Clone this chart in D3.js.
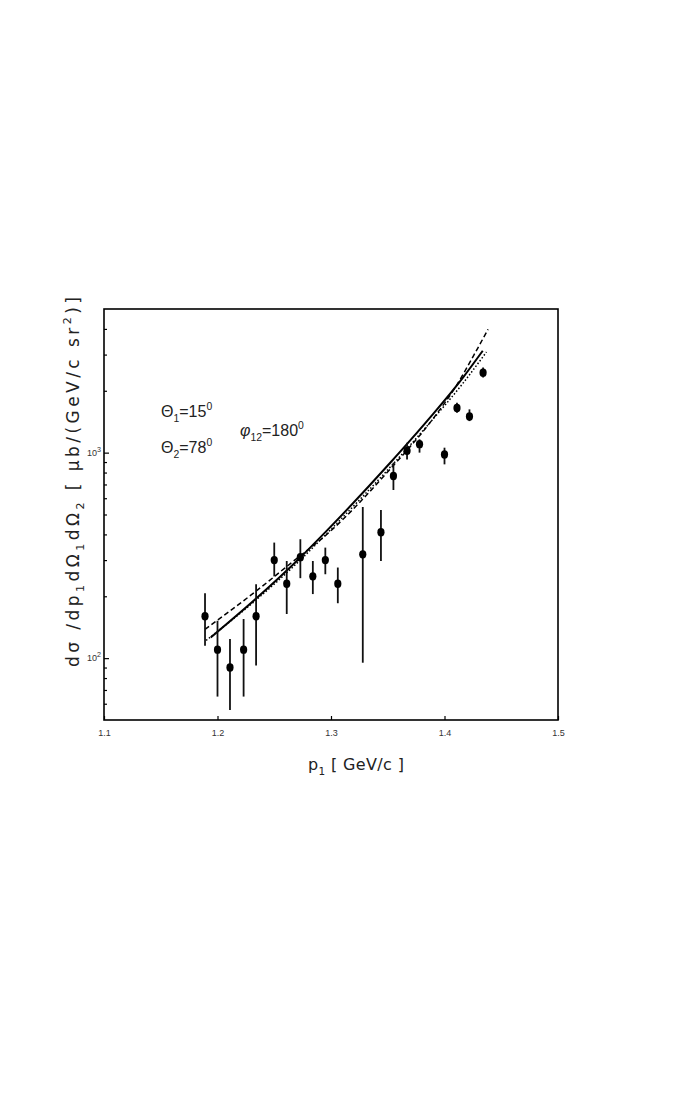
<!DOCTYPE html>
<html>
<head>
<meta charset="utf-8">
<script src="https://cdn.jsdelivr.net/npm/d3@7"></script>
<style>
  body { margin: 0; background: #fff; }
</style>
</head>
<body>
<script>
// measured points: p1 [GeV/c], cross section, lower / upper end of the error bar
var pVals  = [1.189, 1.200, 1.211, 1.223, 1.234, 1.250, 1.261, 1.273, 1.284, 1.295,
              1.306, 1.328, 1.344, 1.355, 1.367, 1.378, 1.400, 1.411, 1.422, 1.434];
var sigma  = [160, 110, 90, 110, 160, 300, 230, 310, 250, 300,
              230, 320, 410, 770, 1020, 1100, 980, 1650, 1500, 2450];
var errLo  = [115, 65, 56, 65, 92, 250, 164, 245, 205, 256,
              185, 95, 297, 658, 927, 1000, 877, 1565, 1424, 2322];
var errHi  = [207, 152, 124, 155, 229, 365, 297, 379, 297, 345,
              276, 544, 526, 894, 1118, 1161, 1057, 1750, 1624, 2597];

// model curves
var solidP   = [1.194, 1.2345, 1.2712, 1.2974, 1.352, 1.3872, 1.4166, 1.4337];
var solidV   = [126, 196, 302, 423, 890, 1480, 2333, 3133];
var dashedP  = [1.189, 1.2345, 1.2654, 1.2974, 1.352, 1.390, 1.410, 1.4254, 1.4384];
var dashedV  = [138, 213, 292, 405, 830, 1465, 2099, 2951, 3981];
var dottedP  = [1.190, 1.2345, 1.2712, 1.2974, 1.352, 1.3872, 1.4166, 1.4370];
var dottedV  = [122, 193, 294, 410, 848, 1400, 2188, 3090];

var xTicks = [1.1, 1.2, 1.3, 1.4, 1.5];
var yMajor = [100, 1000];
var yMinor = [60, 70, 80, 90, 200, 300, 400, 500, 600, 700, 800, 900, 2000, 3000, 4000];

var width = 680, height = 1100;
var frameL = 104, frameR = 558, frameT = 309, frameB = 720;
var sans = "'Liberation Sans', Arial, sans-serif";

var svg = d3.select("body").append("svg")
    .attr("width", width)
    .attr("height", height)
    .style("font-family", sans);

var x = d3.scaleLinear().domain([1.1, 1.5]).range([frameL, frameR]);
var y = d3.scaleLog().domain([50, 5000]).range([frameB, frameT]);

// write text with sub/superscript pieces
function rich(sel, parts, small) {
  var shift = 0;
  var fs = parseFloat(sel.attr("font-size"));
  parts.forEach(function(p) {
    var t = sel.append("tspan").text(p[0]);
    var want = p[1] === "sub" ? 0.3 : p[1] === "sup" ? -0.45 : 0;
    var d = (want - shift) * fs;
    if (d !== 0) t.attr("dy", d);
    if (p[1] !== "n") t.attr("font-size", fs * small);
    shift = want;
  });
}

// x axis
svg.append("g")
  .attr("transform", "translate(0," + frameB + ")")
  .call(d3.axisBottom(x).tickValues(xTicks).tickSize(-4).tickPadding(10)
        .tickFormat(d3.format(".1f")))
  .call(function(g) {
    g.select(".domain").remove();
    g.selectAll("line").attr("stroke", "#000").attr("stroke-width", 1.2);
    g.selectAll("text").attr("font-size", 9).attr("fill", "#333")
      .attr("font-family", sans);
  });

// y axis minor ticks
svg.append("g")
  .attr("transform", "translate(" + frameL + ",0)")
  .call(d3.axisLeft(y).tickValues(yMinor).tickSize(-3).tickFormat(""))
  .call(function(g) {
    g.select(".domain").remove();
    g.selectAll("line").attr("stroke", "#000").attr("stroke-width", 1.2);
  });

// y axis major ticks
svg.append("g")
  .attr("transform", "translate(" + frameL + ",0)")
  .call(d3.axisLeft(y).tickValues(yMajor).tickSize(-5).tickFormat(""))
  .call(function(g) {
    g.select(".domain").remove();
    g.selectAll("line").attr("stroke", "#000").attr("stroke-width", 1.2);
  });

yMajor.forEach(function(v) {
  var t = svg.append("text")
    .attr("x", frameL - 3)
    .attr("y", y(v) + 3)
    .attr("text-anchor", "end")
    .attr("font-size", 9)
    .attr("fill", "#333");
  rich(t, [["10", "n"], [String(Math.round(Math.log10(v))), "sup"]], 0.8);
});

// frame
svg.append("rect")
  .attr("x", frameL).attr("y", frameT)
  .attr("width", frameR - frameL).attr("height", frameB - frameT)
  .attr("fill", "none").attr("stroke", "#000").attr("stroke-width", 1.6);

// curves
var line = d3.line()
  .x(function(d) { return x(d[0]); })
  .y(function(d) { return y(d[1]); })
  .curve(d3.curveMonotoneX);

function curve(ps, vs, dash, w) {
  svg.append("path")
    .datum(d3.zip(ps, vs))
    .attr("d", line)
    .attr("fill", "none")
    .attr("stroke", "#000")
    .attr("stroke-width", w)
    .attr("stroke-dasharray", dash);
}
curve(dottedP, dottedV, "1.5,2", 1.5);
curve(dashedP, dashedV, "5,3", 1.5);
curve(solidP, solidV, null, 2);

// data with error bars
var pts = pVals.map(function(p, i) {
  return { p: p, v: sigma[i], lo: errLo[i], hi: errHi[i] };
});

svg.selectAll(".err")
  .data(pts)
  .enter()
  .append("line")
  .attr("class", "err")
  .attr("x1", function(d) { return x(d.p); })
  .attr("x2", function(d) { return x(d.p); })
  .attr("y1", function(d) { return y(d.lo); })
  .attr("y2", function(d) { return y(d.hi); })
  .attr("stroke", "#111")
  .attr("stroke-width", 1.8);

svg.selectAll(".pt")
  .data(pts)
  .enter()
  .append("ellipse")
  .attr("class", "pt")
  .attr("cx", function(d) { return x(d.p); })
  .attr("cy", function(d) { return y(d.v); })
  .attr("rx", 3.6)
  .attr("ry", 4.2)
  .attr("fill", "#000");

// axis titles
var xt = svg.append("text")
  .attr("x", 356).attr("y", 770)
  .attr("text-anchor", "middle")
  .attr("font-size", 16)
  .style("font-family", "'DejaVu Sans', sans-serif")
  .attr("fill", "#222")
  .attr("textLength", 96)
  .attr("lengthAdjust", "spacing");
rich(xt, [["p", "n"], ["1", "sub"], [" [ GeV/c ]", "n"]], 0.65);

var yt = svg.append("text")
  .attr("transform", "translate(79,482) rotate(-90)")
  .attr("text-anchor", "middle")
  .attr("font-size", 17)
  .style("font-family", "'DejaVu Sans', sans-serif")
  .attr("fill", "#222")
  .attr("textLength", 370)
  .attr("lengthAdjust", "spacing");
rich(yt, [["d\u03c3 /dp", "n"], ["1", "sub"], ["d\u03a9", "n"], ["1", "sub"], ["d\u03a9", "n"], ["2", "sub"],
          ["   [ \u03bcb/(GeV/c sr", "n"], ["2", "sup"], [")]", "n"]], 0.65);

// annotations
var a1 = svg.append("text").attr("x", 161).attr("y", 417).attr("font-size", 16).attr("fill", "#222");
rich(a1, [["\u0398", "n"], ["1", "sub"], ["=15", "n"], ["0", "sup"]], 0.65);
var a2 = svg.append("text").attr("x", 161).attr("y", 453).attr("font-size", 16).attr("fill", "#222");
rich(a2, [["\u0398", "n"], ["2", "sub"], ["=78", "n"], ["0", "sup"]], 0.65);
var a3 = svg.append("text").attr("x", 240).attr("y", 436).attr("font-size", 16).attr("fill", "#222");
a3.append("tspan").attr("font-style", "italic").text("\u03c6");
rich(a3, [["12", "sub"], ["=180", "n"], ["0", "sup"]], 0.65);
</script>
</body>
</html>
